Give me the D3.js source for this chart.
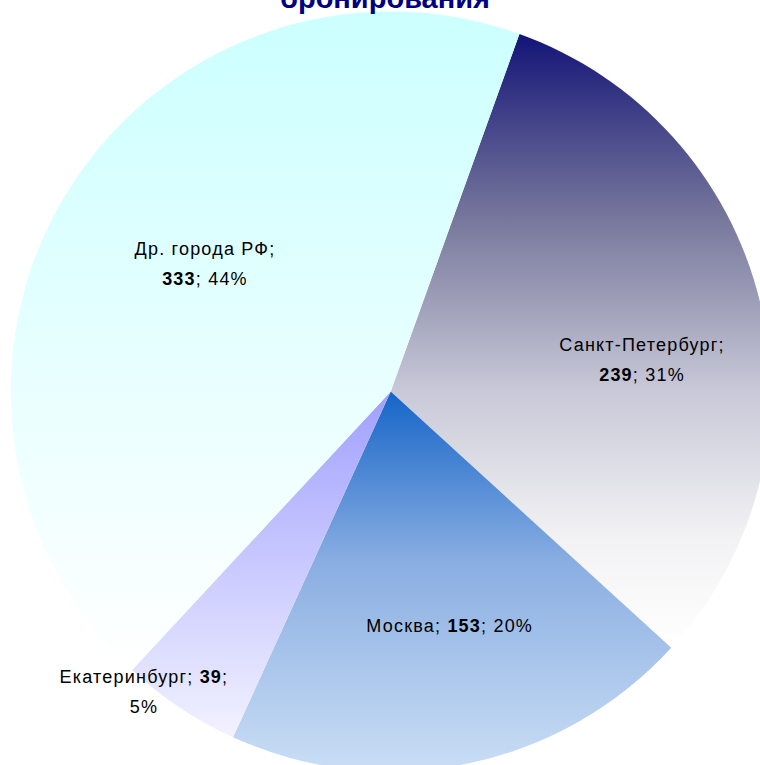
<!DOCTYPE html>
<html>
<head>
<meta charset="utf-8">
<script src="https://cdn.jsdelivr.net/npm/d3@7"></script>
<style>
  body { margin: 0; background: #fff; }
  svg { display: block; }
</style>
</head>
<body>
<svg class="pie" width="760" height="765"></svg>
<script>
const cities = ['Санкт-Петербург', 'Москва', 'Екатеринбург', 'Др. города РФ']
const counts = [239, 153, 39, 333]
const title = 'бронирования'

// gradient stops per slice (top -> bottom of each slice)
const gradients = [
  [[0, '#141478'], [0.3, '#77779c'], [0.58, '#c8c8d8'], [0.82, '#f2f2f4'], [1, '#ffffff']],
  [[0, '#1565c8'], [0.45, '#8aaee2'], [1, '#cadef5']],
  [[0, '#a0a0ff'], [1, '#f2f2ff']],
  [[0, '#ccffff'], [1, '#ffffff']]
]

const W = 760, H = 765
const cx = 390.7, cy = 391.5, R = 380
const total = d3.sum(counts)

const svg = d3.select('.pie')
const defs = svg.append('defs')

gradients.forEach((stops, i) => {
  const g = defs.append('linearGradient')
    .attr('id', 'grad' + i)
    .attr('x1', 0).attr('y1', 0).attr('x2', 0).attr('y2', 1)
  g.selectAll('stop')
    .data(stops)
    .join('stop')
    .attr('offset', d => d[0])
    .attr('stop-color', d => d[1])
})

const start = 19.8 * Math.PI / 180
const pie = d3.pie()
  .sort(null)
  .value(d => d)
  .startAngle(start)
  .endAngle(start + 2 * Math.PI)

const arcs = pie(counts)
const arc = d3.arc().innerRadius(0).outerRadius(R)

const g = svg.append('g').attr('transform', `translate(${cx},${cy})`)

g.selectAll('path')
  .data(arcs)
  .join('path')
  .attr('d', arc)
  .attr('fill', (d, i) => `url(#grad${i})`)

// title (first line lies above the visible area)
svg.append('text')
  .attr('x', 385).attr('y', 8)
  .attr('text-anchor', 'middle')
  .attr('font-family', 'Liberation Sans, Arial, sans-serif')
  .attr('font-weight', 'bold')
  .attr('font-size', 29)
  .attr('fill', '#000080')
  .text(title)

// labels
const nudge = [[22.6, 24.1], [11.9, 2.7], [-31.7, -22.5], [15.5, -5.4]]
const breakAfter = [1, 0, 2, 1] // 1: after name, 2: after value, 0: one line

arcs.forEach((d, i) => {
  const share = d.value / total
  const lr = share > 0.1 ? R * 0.62 : R * 1.02
  const [lx, ly] = d3.arc().innerRadius(lr).outerRadius(lr).centroid(d)
  const x = lx + nudge[i][0], y = ly + nudge[i][1]
  const pct = Math.round(share * 100) + '%'

  const t = g.append('text')
    .attr('text-anchor', 'middle')
    .attr('font-family', 'Liberation Sans, Arial, sans-serif')
    .attr('font-size', 18)
    .attr('letter-spacing', 1.2)
    .attr('fill', '#000')

  const parts = [
    { s: cities[i] + ';', b: false },
    { s: String(d.value), b: true },
    { s: '; ' + pct, b: false }
  ]
  const lines = breakAfter[i] === 0 ? 1 : 2
  const y0 = lines === 1 ? y + 6.5 : y - 8.5

  let line = t.append('tspan').attr('x', x).attr('y', y0)
  parts.forEach((p, k) => {
    let s = p.s
    if (breakAfter[i] === 2 && k === 2) {
      line.append('tspan').text(';')
      line = t.append('tspan').attr('x', x).attr('y', y0 + 30)
      line.append('tspan').text(pct)
      return
    }
    if (k === 1 && breakAfter[i] !== 1) s = ' ' + s
    line.append('tspan').attr('font-weight', p.b ? 'bold' : null).text(s)
    if (k === 0 && breakAfter[i] === 1) {
      line = t.append('tspan').attr('x', x).attr('y', y0 + 30)
    }
  })
})
</script>
</body>
</html>
